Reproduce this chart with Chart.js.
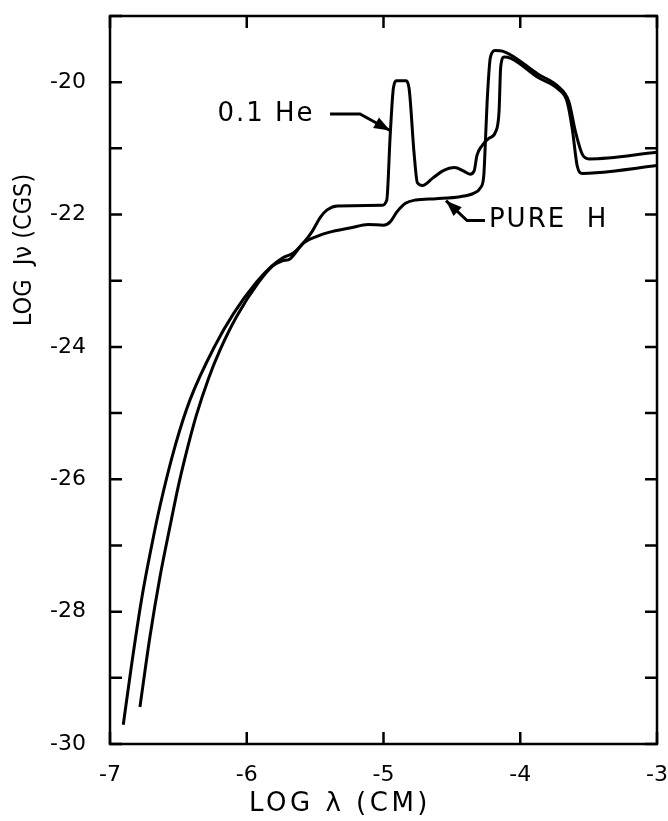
<!DOCTYPE html>
<html>
<head>
<meta charset="utf-8">
<script src="https://cdn.jsdelivr.net/npm/chart.js@4.4.1/dist/chart.umd.min.js"></script>
<style>
  html, body { margin: 0; padding: 0; background: #fff; }
  #wrap { width: 668px; height: 821px; position: relative; }
</style>
</head>
<body>
<div id="wrap"><canvas id="spectrumChart"></canvas></div>
<script>
// log lambda (cm) / log J_nu (cgs)
const heX = [-6.903, -6.842, -6.768, -6.695, -6.634, -6.52, -6.415, -6.232, -6.098,
  -5.928, -5.818, -5.733, -5.659, -5.586, -5.52, -5.461, -5.412, -5.337, -5.013,
  -4.976, -4.951, -4.927, -4.902, -4.839, -4.814, -4.777, -4.752, -4.715, -4.640,
  -4.566, -4.479, -4.417, -4.367, -4.337, -4.317, -4.280, -4.230, -4.180, -4.155,
  -4.143, -4.118, -4.068, -3.869, -3.720, -3.658, -3.620, -3.583, -3.546, -3.446, -3.0];
const heY = [-29.71, -28.80, -27.80, -27.00, -26.40, -25.47, -24.80, -23.98, -23.50,
  -23.02, -22.78, -22.65, -22.58, -22.43, -22.25, -22.04, -21.93, -21.87, -21.86,
  -21.78, -20.80, -20.08, -19.98, -19.98, -20.08, -21.06, -21.52, -21.56, -21.45,
  -21.34, -21.29, -21.34, -21.39, -21.34, -21.11, -20.96, -20.85, -20.75, -20.44,
  -19.77, -19.62, -19.64, -19.93, -20.11, -20.29, -20.70, -21.27, -21.38, -21.37, -21.26];

const pureX = [-6.781, -6.708, -6.634, -6.561, -6.500, -6.452, -6.371, -6.28, -6.196, -6.074,
  -5.915, -5.811, -5.740, -5.684, -5.586, -5.486, -5.40, -5.237, -5.113, -5.00, -4.951,
  -4.902, -4.839, -4.765, -4.616, -4.441, -4.342, -4.292, -4.267, -4.255, -4.242,
  -4.218, -4.180, -4.130, -3.869, -3.720, -3.645, -3.596, -3.546, -3.496, -3.0];
const pureY = [-29.44, -28.38, -27.47, -26.71, -26.10, -25.68, -25.05, -24.48, -24.05, -23.54,
  -23.03, -22.78, -22.70, -22.67, -22.43, -22.33, -22.27, -22.20, -22.15, -22.16, -22.11,
  -21.96, -21.83, -21.78, -21.76, -21.73, -21.68, -21.60, -21.42, -20.91, -20.29,
  -19.62, -19.52, -19.53, -19.88, -20.07, -20.29, -20.75, -21.09, -21.16, -21.06];

const xRange = [-7, -3];
const yRange = [-30, -19];
const yLabelled = [-30, -28, -26, -24, -22, -20];

const xTitle = 'LOG λ (CM)';
const yTitle = 'LOG  Jν (CGS)';

// curve labels with their arrows (data units)
const notes = [
  { text: '0.1 He', at: [-5.859, -20.48], align: 'center',
    arrow: [[-5.391, -20.48], [-5.172, -20.48], [-4.952, -20.73]] },
  { text: 'PURE  H', at: [-4.229, -22.09], align: 'left',
    arrow: [[-4.258, -22.09], [-4.389, -22.09], [-4.543, -21.79]] }
];

const FONT = '"DejaVu Sans", "Liberation Sans", sans-serif';

function toPoints(xs, ys) {
  return xs.map((x, i) => ({ x: x, y: ys[i] }));
}

const framePlugin = {
  id: 'framePlugin',
  afterDatasetsDraw(chart) {
    const { ctx, chartArea: a, scales: { x, y } } = chart;
    const len = 12;
    ctx.save();
    ctx.strokeStyle = '#000';
    ctx.fillStyle = '#000';
    ctx.lineWidth = 2.5;
    ctx.strokeRect(a.left, a.top, a.right - a.left, a.bottom - a.top);

    // inward ticks on all four sides
    ctx.beginPath();
    x.ticks.forEach(t => {
      const px = x.getPixelForValue(t.value);
      ctx.moveTo(px, a.bottom); ctx.lineTo(px, a.bottom - len);
      ctx.moveTo(px, a.top); ctx.lineTo(px, a.top + len);
    });
    y.ticks.forEach(t => {
      const py = y.getPixelForValue(t.value);
      ctx.moveTo(a.left, py); ctx.lineTo(a.left + len, py);
      ctx.moveTo(a.right, py); ctx.lineTo(a.right - len, py);
    });
    ctx.stroke();

    // curve labels and arrows
    ctx.font = '26px ' + FONT;
    ctx.textBaseline = 'middle';
    ctx.letterSpacing = '2px';
    notes.forEach(n => {
      ctx.textAlign = n.align;
      ctx.fillText(n.text, x.getPixelForValue(n.at[0]), y.getPixelForValue(n.at[1]));
      const pts = n.arrow.map(p => [x.getPixelForValue(p[0]), y.getPixelForValue(p[1])]);
      ctx.lineWidth = 3;
      ctx.beginPath();
      pts.forEach((p, i) => i ? ctx.lineTo(p[0], p[1]) : ctx.moveTo(p[0], p[1]));
      ctx.stroke();
      const tip = pts[pts.length - 1], prev = pts[pts.length - 2];
      const ang = Math.atan2(tip[1] - prev[1], tip[0] - prev[0]);
      ctx.beginPath();
      ctx.moveTo(tip[0], tip[1]);
      ctx.lineTo(tip[0] - 16 * Math.cos(ang) + 6 * Math.sin(ang), tip[1] - 16 * Math.sin(ang) - 6 * Math.cos(ang));
      ctx.lineTo(tip[0] - 16 * Math.cos(ang) - 6 * Math.sin(ang), tip[1] - 16 * Math.sin(ang) + 6 * Math.cos(ang));
      ctx.closePath();
      ctx.fill();
    });

    // axis titles
    ctx.textAlign = 'center';
    ctx.letterSpacing = '3.5px';
    ctx.fillText(xTitle, 340, 804);
    ctx.font = '25px "DejaVu Sans Condensed", ' + FONT;
    ctx.letterSpacing = '0px';
    ctx.translate(24, 250);
    ctx.rotate(-Math.PI / 2);
    ctx.fillText(yTitle, 0, 0);
    ctx.restore();
  }
};

const spectrumConfig = {
  type: 'scatter',
  data: {
    datasets: [{
      label: '0.1 He',
      data: toPoints(heX, heY),
      showLine: true,
      borderColor: '#000',
      borderWidth: 3,
      pointRadius: 0,
      cubicInterpolationMode: 'monotone'
    }, {
      label: 'PURE H',
      data: toPoints(pureX, pureY),
      showLine: true,
      borderColor: '#000',
      borderWidth: 3,
      pointRadius: 0,
      cubicInterpolationMode: 'monotone'
    }]
  },
  options: {
    responsive: true,
    maintainAspectRatio: false,
    animation: false,
    layout: { padding: { left: 0, right: 11, top: 16, bottom: 0 } },
    plugins: {
      legend: { display: false },
      tooltip: { enabled: false }
    },
    scales: {
      x: {
        type: 'linear',
        min: xRange[0],
        max: xRange[1],
        grid: { display: false },
        border: { display: false },
        afterFit: s => { s.height = 77; s.paddingLeft = 0; s.paddingRight = 0; },
        ticks: {
          stepSize: 1,
          padding: 10,
          color: '#000',
          font: { family: FONT, size: 22 }
        }
      },
      y: {
        type: 'linear',
        min: yRange[0],
        max: yRange[1],
        grid: { display: false },
        border: { display: false },
        afterFit: s => { s.width = 110; s.paddingTop = 0; s.paddingBottom = 0; },
        ticks: {
          stepSize: 1,
          padding: 16,
          color: '#000',
          font: { family: FONT, size: 22 },
          callback: v => yLabelled.includes(v) ? String(v) : ''
        }
      }
    }
  },
  plugins: [framePlugin]
};

new Chart(document.getElementById('spectrumChart').getContext('2d'), spectrumConfig);
</script>
</body>
</html>
